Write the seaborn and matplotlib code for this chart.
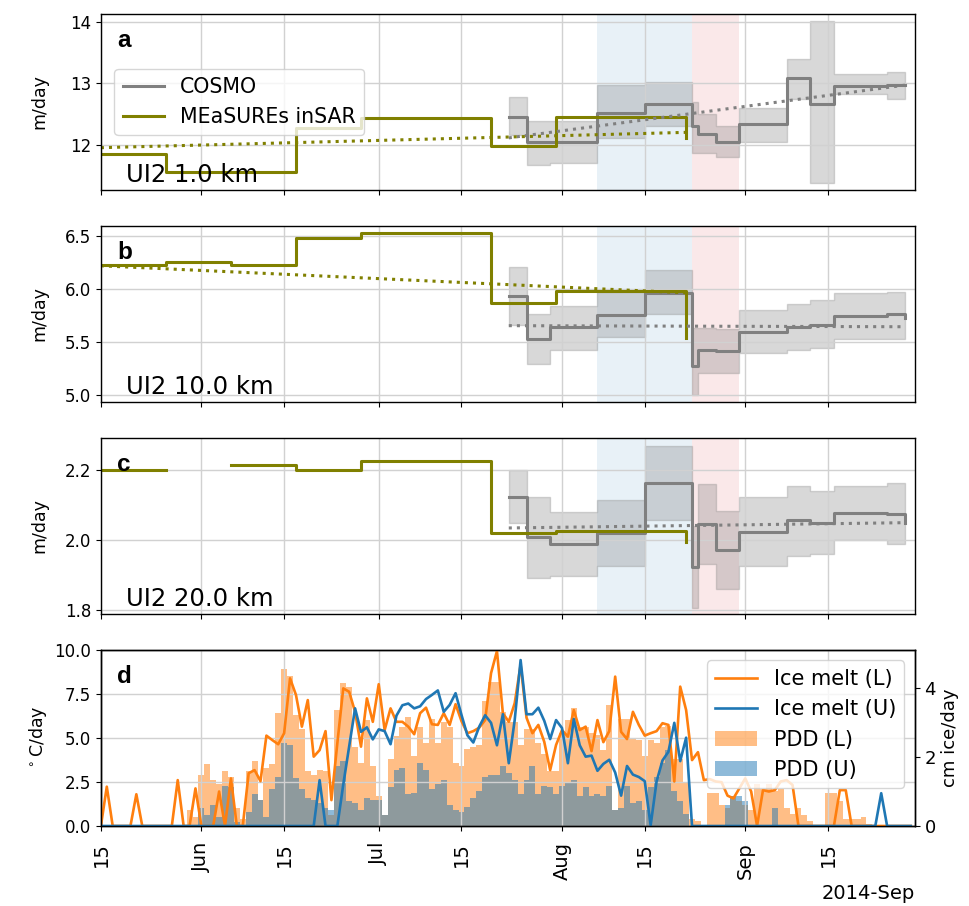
import numpy as np
import pandas as pd
import matplotlib
matplotlib.use("Agg")
import matplotlib.pyplot as plt
import matplotlib.dates as mdates
import seaborn as sns

# MEaSUREs InSAR velocity steps (m/day), same acquisition dates for every flowline point
meas_dates = pd.to_datetime(["2014-05-04", "2014-05-26", "2014-06-06", "2014-06-17",
                             "2014-06-28", "2014-07-20", "2014-07-31", "2014-08-22"])
meas_1km = [11.84, 11.55, 11.55, 12.27, 12.44, 11.97, 12.45, 12.11]
meas_10km = [6.224, 6.25, 6.22, 6.48, 6.525, 5.86, 5.98, 5.535]
meas_20km = [2.20, np.nan, 2.214, 2.20, 2.225, 2.019, 2.025, 1.994]

meas_trend_dates = pd.to_datetime(["2014-05-15", "2014-08-22"])
meas_trend_1km = [11.95, 12.20]
meas_trend_10km = [6.215, 5.96]

# COSMO velocity steps with uncertainty band
cosmo_dates = pd.to_datetime(["2014-07-23", "2014-07-26", "2014-07-30", "2014-08-07",
                              "2014-08-15", "2014-08-23", "2014-08-24", "2014-08-27",
                              "2014-08-31", "2014-09-08", "2014-09-12", "2014-09-16",
                              "2014-09-25", "2014-09-28"])
cosmo_1km = [12.45, 12.04, 12.05, 12.52, 12.66, 12.31, 12.17, 12.04, 12.33, 13.08, 12.67, 12.96, 12.98, 12.97]
cosmo_1km_lo = [12.15, 11.67, 11.70, 12.11, 12.30, 11.87, 11.87, 11.80, 12.05, 12.75, 11.38, 12.82, 12.74, 12.74]
cosmo_1km_hi = [12.77, 12.38, 12.39, 12.97, 13.02, 12.70, 12.50, 12.31, 12.59, 13.40, 14.02, 13.15, 13.18, 13.18]
cosmo_10km = [5.93, 5.52, 5.64, 5.75, 5.96, 5.27, 5.42, 5.41, 5.59, 5.64, 5.66, 5.74, 5.76, 5.72]
cosmo_10km_lo = [5.66, 5.29, 5.42, 5.54, 5.76, 5.00, 5.20, 5.20, 5.39, 5.42, 5.44, 5.525, 5.52, 5.52]
cosmo_10km_hi = [6.20, 5.76, 5.84, 5.97, 6.18, 5.63, 5.63, 5.62, 5.80, 5.85, 5.89, 5.955, 5.97, 5.97]
cosmo_20km = [2.122, 2.008, 1.987, 2.02, 2.162, 1.923, 2.044, 1.972, 2.023, 2.056, 2.049, 2.077, 2.075, 2.049]
cosmo_20km_lo = [2.049, 1.891, 1.896, 1.925, 2.056, 1.805, 1.93, 1.861, 1.927, 1.953, 1.96, 2.001, 1.989, 1.989]
cosmo_20km_hi = [2.20, 2.122, 2.08, 2.113, 2.266, 2.04, 2.16, 2.082, 2.122, 2.154, 2.138, 2.154, 2.163, 2.163]

cosmo_trend_dates = pd.to_datetime(["2014-07-23", "2014-09-28"])
cosmo_trend_1km = [12.11, 12.97]
cosmo_trend_10km = [5.65, 5.64]
cosmo_trend_20km = [2.034, 2.049]

# shaded periods
blue_period = pd.to_datetime(["2014-08-07", "2014-08-23"])
red_period = pd.to_datetime(["2014-08-23", "2014-08-31"])

# daily PDD (degC/day) and ice melt (cm ice/day), lower (L) and upper (U) stations
days = pd.date_range("2014-05-15", periods=138, freq="D")
pdd_L = [0] * 15 + [
    0.9, 0.5, 2.9, 3.5, 2.6, 2.4, 3.1, 2.8, 1.0, 0.4,
    3.1, 3.7, 1.5, 3.3, 3.5, 6.4, 8.9, 8.5, 6.3, 5.5,
    3.1, 2.9, 3.2, 3.1, 0.6, 6.6, 8.1, 7.9, 4.5, 3.6,
    6.0, 3.4, 1.7, 0.6, 3.8, 5.1, 5.6, 6.2, 4.0, 5.6,
    4.7, 6.1, 4.7, 5.9, 5.6, 3.6, 3.4, 4.4, 4.5, 4.6,
    7.1, 8.2, 8.2, 6.5, 5.9, 5.9, 4.6, 5.5, 5.5, 4.7,
    4.1, 3.1, 3.1, 5.3, 6.0, 6.7, 5.6, 5.6, 5.3, 5.2,
    4.3, 6.9, 0.9, 6.1, 6.1, 5.0, 4.9, 4.0, 4.9, 4.7,
    5.6, 5.7, 3.8, 3.8, 2.5, 0.4, 0.3, 0.0, 1.9, 1.9,
    1.2, 1.0, 1.7, 1.4, 1.2, 0.9, 2.4, 2.1, 2.4, 2.0,
    2.1, 1.0, 0.7, 1.0, 0.6, 0.3, 0.0, 0.0, 1.9, 1.9,
    1.4, 0.4, 0.4, 0.4, 0.5, 0.1] + [0] * 7
pdd_U = [0] * 17 + [
    1.0, 0.6, 1.2, 0.5, 2.3, 2.2, 0.2, 0.0,
    0.8, 1.8, 1.5, 0.5, 2.1, 2.8, 4.7, 4.6, 2.7, 2.1,
    1.6, 1.5, 1.3, 1.0, 0.9, 3.4, 3.7, 1.4, 1.3, 0.9,
    1.6, 1.5, 1.5, 0.6, 2.2, 3.2, 3.3, 1.8, 1.9, 3.6,
    3.2, 2.1, 2.4, 2.6, 1.2, 0.9, 0.8, 1.1, 1.6, 2.0,
    2.8, 2.9, 2.9, 3.4, 3.0, 2.6, 1.8, 2.6, 3.4, 1.8,
    2.3, 2.2, 1.8, 2.3, 2.5, 2.6, 1.7, 2.2, 1.7, 1.8,
    1.7, 2.3, 0.9, 1.0, 2.3, 1.3, 1.4, 0.9, 2.2, 2.8,
    3.6, 4.3, 2.0, 1.4, 0.7] + [0] * 6 + [1.2, 1.7, 1.7, 1.4] + [0] * 4 + [1.0] + [0] * 23
melt_L = [
    0, 1.14, 0, 0, 0, 0, 0.92, 0, 0, 0, 0, 0, 0, 1.33, 0, 0, 1.09, 0, 0, 0, 1.0, 0, 1.38, 0, 0,
    1.53, 1.62, 1.30, 2.62, 2.49, 2.37, 2.69, 4.28, 3.80, 2.88,
    3.65, 2.01, 2.20, 2.75, 0.75, 2.40, 3.99, 3.89, 3.31, 2.30,
    3.70, 3.02, 4.11, 2.78, 3.41, 3.02, 3.02, 2.88, 2.66, 3.27,
    3.43, 2.95, 2.93, 3.27, 2.93, 3.53, 3.04, 2.69, 2.75, 2.85,
    3.07, 4.43, 5.07, 3.27, 3.02, 3.56, 4.67, 3.14, 2.69, 2.93,
    2.44, 1.62, 2.35, 2.78, 2.59, 3.36, 2.78, 2.88, 2.17, 3.07,
    2.43, 2.75, 4.33, 2.73, 2.52, 3.31, 2.93, 2.62, 2.69, 2.75,
    2.98, 2.93, 1.29, 4.04, 3.36, 1.91, 2.14, 1.33, 1.36, 1.29,
    1.27, 0.88, 0.80, 1.09, 1.38, 1.0, 0, 1.04, 1.0, 1.04,
    1.29, 1.33, 1.19, 0, 0, 0, 0, 0, 0, 0,
    1.04, 1.04] + [0] * 11
melt_U = [0] * 37 + [
    1.33, 0, 0, 0, 1.2, 2.3, 3.41, 2.73, 2.86, 2.51, 2.80, 2.75, 2.37,
    3.20, 3.50, 3.55, 3.41, 3.47, 3.68, 3.80, 3.93, 3.31, 3.51, 3.85, 3.22,
    2.63, 2.42, 2.88, 3.21, 2.99, 2.34, 3.24, 1.82, 3.07, 4.81, 3.24, 3.24,
    3.43, 3.05, 2.52, 3.07, 2.84, 1.82, 3.10, 2.34, 2.01, 2.04, 1.60, 1.80,
    1.92, 1.55, 0.88, 1.74, 1.49, 1.42, 1.30, 0.02, 1.29, 1.90, 2.15, 2.99,
    1.88, 2.56] + [0] * 32 + [0.95] + [0] * 5

plt.rcParams["xtick.labelsize"] = 14
plt.rcParams["ytick.labelsize"] = 12
plt.rcParams["axes.linewidth"] = 1.0

fig, axes = plt.subplots(4, 1, sharex=True, figsize=(9.7, 9.06), dpi=100)
fig.subplots_adjust(left=0.104, right=0.943, top=0.9845, bottom=0.0883, hspace=0.205)

panels = [
    ("a", "UI2 1.0 km", meas_1km, meas_trend_1km, cosmo_1km, cosmo_1km_lo, cosmo_1km_hi,
     cosmo_trend_1km, (11.26, 14.13), [12, 13, 14]),
    ("b", "UI2 10.0 km", meas_10km, meas_trend_10km, cosmo_10km, cosmo_10km_lo, cosmo_10km_hi,
     cosmo_trend_10km, (4.93, 6.59), [5.0, 5.5, 6.0, 6.5]),
    ("c", "UI2 20.0 km", meas_20km, None, cosmo_20km, cosmo_20km_lo, cosmo_20km_hi,
     cosmo_trend_20km, (1.789, 2.29), [1.8, 2.0, 2.2]),
]

for i, (letter, name, meas, meas_tr, cos, lo, hi, cos_tr, ylim, yticks) in enumerate(panels):
    ax = axes[i]
    ax.axvspan(blue_period[0], blue_period[1], color="tab:blue", alpha=0.1, lw=0)
    ax.axvspan(red_period[0], red_period[1], color="tab:red", alpha=0.1, lw=0)
    ax.fill_between(cosmo_dates, lo, hi, step="post", color="gray", alpha=0.3)
    sns.lineplot(x=cosmo_dates, y=cos, ax=ax, color="gray", lw=2.2, errorbar=None,
                 drawstyle="steps-post", label="COSMO" if i == 0 else None)
    ax.step(meas_dates, meas, where="post", color="olive", lw=2.2,
            label="MEaSUREs inSAR" if i == 0 else None)
    sns.lineplot(x=cosmo_trend_dates, y=cos_tr, ax=ax, color="gray", lw=2.2,
                 linestyle=":", errorbar=None)
    if meas_tr is not None:
        sns.lineplot(x=meas_trend_dates, y=meas_tr, ax=ax, color="olive", lw=2.2,
                     linestyle=":", errorbar=None)
    ax.set_ylim(*ylim)
    ax.set_yticks(yticks)
    ax.set_ylabel("m/day", fontsize=12.5)
    ax.text(0.031, 0.048, name, transform=ax.transAxes, fontsize=17.5, va="baseline")
    ax.text(0.02, 0.815, letter, transform=ax.transAxes, fontsize=17.5, fontweight="bold",
            family="Liberation Sans", va="baseline")
    ax.grid(True, color="0.82", lw=1)
    if i == 0:
        h, l = ax.get_legend_handles_labels()
        ax.legend(h, l, loc="center left", bbox_to_anchor=(0.004, 0.5), fontsize=14.8)
    elif ax.get_legend() is not None:
        ax.get_legend().remove()

# panel d: PDD bars and ice melt lines
ax = axes[3]
ax.bar(days, pdd_L, width=1.0, color="tab:orange", alpha=0.5, label="PDD (L)")
ax.bar(days, pdd_U, width=1.0, color="tab:blue", alpha=0.5, label="PDD (U)")
ax.set_ylim(0, 10)
ax.set_yticks([0, 2.5, 5, 7.5, 10])
ax.set_ylabel(r"$^\circ$C/day", fontsize=12.5)
ax.grid(True, color="0.82", lw=1)
ax.text(0.02, 0.81, "d", transform=ax.transAxes, fontsize=17.5, fontweight="bold",
        family="Liberation Sans", va="baseline")

ax2 = ax.twinx()
sns.lineplot(x=days, y=melt_L, ax=ax2, color="tab:orange", lw=1.9, errorbar=None, label="Ice melt (L)")
sns.lineplot(x=days, y=melt_U, ax=ax2, color="tab:blue", lw=1.9, errorbar=None, label="Ice melt (U)")
ax2.set_ylim(0, 5.1)
ax2.set_yticks([0, 2, 4])
ax2.tick_params(axis="y", labelsize=13)
ax2.set_ylabel("cm ice/day", fontsize=13)
h1, l1 = ax2.get_legend_handles_labels()
h2, l2 = ax.get_legend_handles_labels()
ax2.legend(h1 + h2, l1 + l2, loc="upper right", fontsize=15)

loc = mdates.DayLocator(bymonthday=[1, 15])
ax.xaxis.set_major_locator(loc)
ax.xaxis.set_major_formatter(mdates.ConciseDateFormatter(loc))
ax.set_xlim(pd.Timestamp("2014-05-15"), pd.Timestamp("2014-09-29 16:00"))
ax.tick_params(axis="x", labelrotation=90, pad=8)
for a in axes:
    a.set_xlabel("")
ax2.set_xlabel("")

fig.align_ylabels(axes)
fig.savefig("out.png", dpi=100)
